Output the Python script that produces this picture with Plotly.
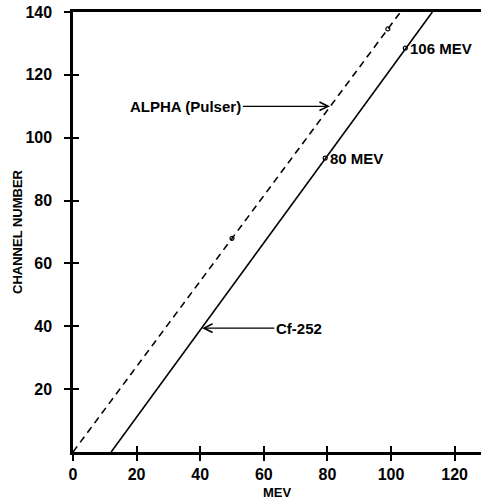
import plotly.graph_objects as go

# Data
cf_x = [12, 79.3, 104.5, 113]
cf_y = [0, 93.5, 128.5, 140]
alpha_x = [0, 50, 99, 103]
alpha_y = [0, 68, 134.6, 140]
cf_marks_x = [79.3, 104.5]
cf_marks_y = [93.5, 128.5]
alpha_marks_x = [50, 99]
alpha_marks_y = [68, 134.6]
x_ticks = [0, 20, 40, 60, 80, 100, 120]
y_ticks = [20, 40, 60, 80, 100, 120, 140]
y_ticktext = [f"{v}\u00a0\u00a0" for v in y_ticks]

FONT = "Liberation Sans"
fig = go.Figure()
fig.add_trace(go.Scatter(x=cf_x, y=cf_y, mode="lines",
                         line=dict(color="black", width=1.6), showlegend=False))
fig.add_trace(go.Scatter(x=alpha_x, y=alpha_y, mode="lines",
                         line=dict(color="black", width=1.6, dash="7px,5px"), showlegend=False))
fig.add_trace(go.Scatter(x=cf_marks_x + alpha_marks_x, y=cf_marks_y + alpha_marks_y, mode="markers",
                         marker=dict(symbol="circle-open", size=4, color="black", line=dict(width=1.2)),
                         showlegend=False))

xr = [0, 128.3]
yr = [0, 140]
tickfont = dict(family=FONT, size=16, color="black", weight="bold")
fig.update_layout(
    width=481, height=501,
    margin=dict(l=73, r=0, t=12, b=49),
    paper_bgcolor="white", plot_bgcolor="white",
    xaxis=dict(range=xr, tickvals=x_ticks, ticks="outside", ticklen=6, tickwidth=2, tickcolor="black",
               showline=True, linewidth=2.5, linecolor="black",
               showgrid=False, zeroline=False, tickfont=tickfont,
               title=dict(text="MEV", font=dict(family=FONT, size=13, color="black", weight="bold"), standoff=6)),
    xaxis2=dict(range=xr, overlaying="x", side="bottom", anchor="y", tickvals=x_ticks[1:], ticks="inside",
                ticklen=6, tickwidth=2, tickcolor="black", showticklabels=False, showline=False,
                showgrid=False, zeroline=False),
    xaxis3=dict(range=xr, overlaying="x", side="top", anchor="y", showticklabels=False, ticks="",
                showline=True, linewidth=2.5, linecolor="black", showgrid=False, zeroline=False),
    yaxis=dict(range=yr, tickvals=y_ticks, ticktext=y_ticktext, ticks="outside", ticklen=6, tickwidth=2,
               tickcolor="black", showline=True, linewidth=2.5, linecolor="black",
               showgrid=False, zeroline=False, tickfont=tickfont,
               title=dict(text="CHANNEL NUMBER", font=dict(family=FONT, size=13, color="black", weight="bold"), standoff=0)),
    yaxis2=dict(range=yr, overlaying="y", side="left", anchor="x", tickvals=y_ticks[:-1], ticks="inside",
                ticklen=6, tickwidth=2, tickcolor="black", showticklabels=False, showline=False,
                showgrid=False, zeroline=False),
)
fig.add_trace(go.Scatter(x=[None], y=[None], xaxis="x2", yaxis="y2", showlegend=False, hoverinfo="skip"))
fig.add_trace(go.Scatter(x=[None], y=[None], xaxis="x3", yaxis="y", showlegend=False, hoverinfo="skip"))

ann_font = dict(family=FONT, size=15, color="black", weight="bold")
fig.add_annotation(x=80.8, y=110, ax=35.5, ay=110, axref="x", ayref="y", xref="x", yref="y",
                   text="ALPHA (Pulser)", showarrow=True, arrowhead=5, arrowsize=1.3, arrowwidth=1.3,
                   arrowcolor="black", font=ann_font)
fig.add_annotation(x=40.6, y=39.4, ax=71, ay=39.4, axref="x", ayref="y", xref="x", yref="y",
                   text="Cf-252", showarrow=True, arrowhead=5, arrowsize=1.3, arrowwidth=1.3,
                   arrowcolor="black", font=ann_font)
fig.add_annotation(x=79.3, y=93.5, text="80 MEV", showarrow=False, xanchor="left", xshift=3,
                   font=ann_font)
fig.add_annotation(x=104.5, y=128.5, text="106 MEV", showarrow=False, xanchor="left", xshift=3,
                   font=ann_font)

fig.write_html("out.html")
